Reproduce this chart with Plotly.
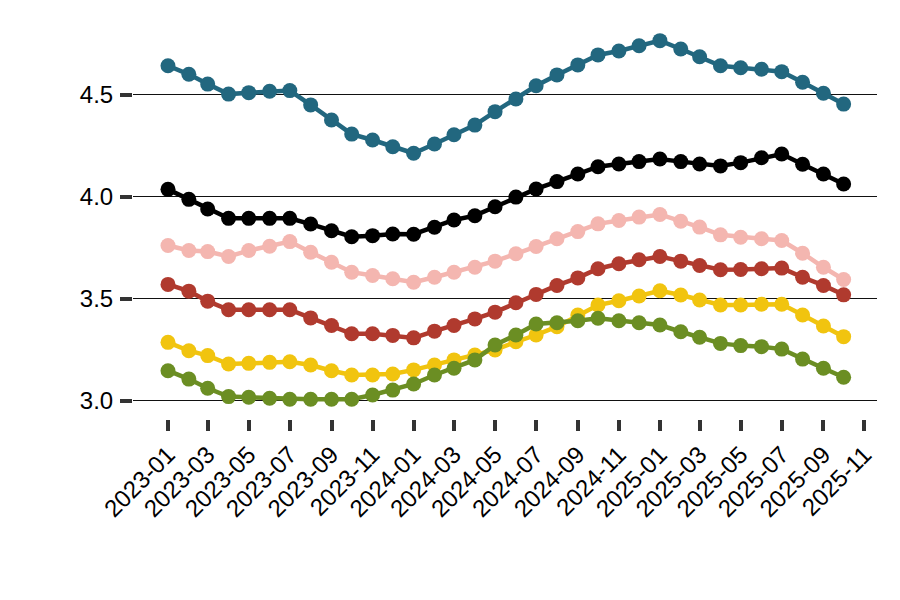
import pandas as pd
import plotly.graph_objects as go

months = pd.date_range("2023-01-01", "2025-10-01", freq="MS").strftime("%Y-%m-%d").tolist()

blue = [4.641, 4.599, 4.551, 4.502, 4.509, 4.516, 4.519, 4.449, 4.375, 4.306, 4.277, 4.244,
        4.212, 4.257, 4.303, 4.350, 4.416, 4.478, 4.543, 4.596, 4.645, 4.694, 4.713, 4.739,
        4.764, 4.723, 4.685, 4.641, 4.631, 4.624, 4.612, 4.560, 4.506, 4.453]
black = [4.035, 3.986, 3.939, 3.893, 3.893, 3.893, 3.893, 3.865, 3.832, 3.803, 3.808, 3.816,
         3.815, 3.849, 3.885, 3.906, 3.950, 3.997, 4.037, 4.073, 4.110, 4.146, 4.159, 4.171,
         4.184, 4.171, 4.159, 4.150, 4.166, 4.190, 4.208, 4.158, 4.110, 4.061]
pink = [3.760, 3.735, 3.730, 3.706, 3.735, 3.756, 3.779, 3.727, 3.678, 3.629, 3.613, 3.597,
        3.580, 3.604, 3.629, 3.653, 3.683, 3.719, 3.755, 3.793, 3.828, 3.866, 3.882, 3.899,
        3.912, 3.879, 3.850, 3.812, 3.800, 3.793, 3.784, 3.722, 3.653, 3.593]
red = [3.569, 3.536, 3.487, 3.445, 3.445, 3.445, 3.445, 3.405, 3.368, 3.327, 3.327, 3.319,
       3.307, 3.340, 3.368, 3.400, 3.433, 3.479, 3.520, 3.564, 3.601, 3.646, 3.670, 3.690,
       3.706, 3.683, 3.662, 3.641, 3.642, 3.646, 3.649, 3.604, 3.564, 3.518]
yellow = [3.285, 3.244, 3.220, 3.179, 3.182, 3.187, 3.190, 3.174, 3.146, 3.125, 3.125, 3.130,
          3.150, 3.174, 3.199, 3.223, 3.248, 3.288, 3.321, 3.362, 3.419, 3.468, 3.489, 3.512,
          3.538, 3.517, 3.493, 3.468, 3.468, 3.472, 3.472, 3.419, 3.365, 3.313]
green = [3.146, 3.105, 3.060, 3.019, 3.016, 3.011, 3.006, 3.006, 3.006, 3.006, 3.027, 3.051,
         3.081, 3.125, 3.158, 3.199, 3.272, 3.321, 3.375, 3.381, 3.391, 3.403, 3.391, 3.381,
         3.370, 3.337, 3.310, 3.280, 3.269, 3.264, 3.252, 3.203, 3.158, 3.114]

series = [
    ("Series 1", blue, "#22677f"),
    ("Series 2", black, "#000000"),
    ("Series 3", pink, "#f4b6b0"),
    ("Series 4", red, "#b03a2e"),
    ("Series 5", yellow, "#f1c40f"),
    ("Series 6", green, "#6b8e23"),
]

fig = go.Figure()
for name, vals, col in series:
    fig.add_trace(go.Scatter(
        x=months, y=vals, name=name, mode="lines+markers",
        line=dict(color=col, width=4.5),
        marker=dict(color=col, size=15),
    ))

fig.update_layout(
    width=900, height=600,
    margin=dict(l=125, r=31, t=12, b=189),
    paper_bgcolor="white", plot_bgcolor="white",
    showlegend=False,
    font=dict(family="Liberation Sans, Arial, sans-serif", size=24, color="black"),
)
fig.update_xaxes(
    type="date",
    range=["2022-11-10", "2025-11-19 14:00"],
    tick0="2023-01-01", dtick="M2", tickformat="%Y-%m",
    tickangle=-45,
    ticks="outside", ticklen=11, tickwidth=3.5, tickcolor="#333333",
    showgrid=False, zeroline=False, showline=False,
)
fig.update_yaxes(
    range=[2.9093, 4.8652],
    tick0=3.0, dtick=0.5, tickformat=".1f",
    ticks="outside", ticklen=12, tickwidth=3.5, tickcolor="#333333",
    showgrid=True, gridcolor="#111111", gridwidth=1,
    zeroline=False, showline=False,
    ticklabelstandoff=2,
)

fig.write_html("out.html")
